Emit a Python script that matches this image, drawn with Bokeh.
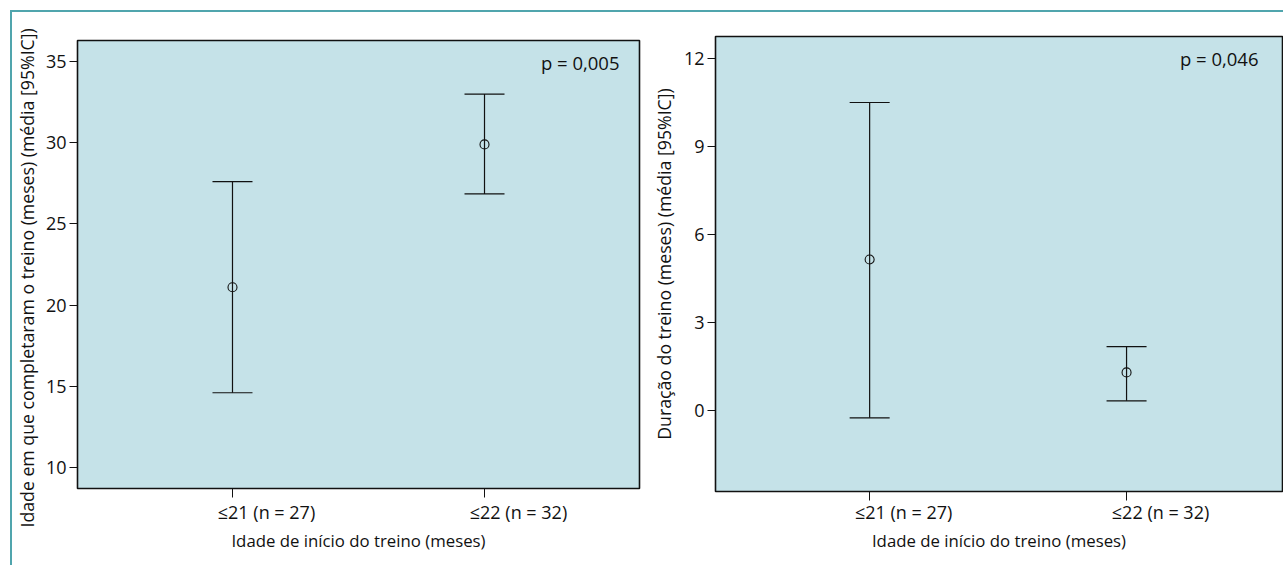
from bokeh.plotting import figure
from bokeh.models import ColumnDataSource, Whisker, TeeHead, FixedTicker, Label, Range1d, Title
from bokeh.layouts import row, column
from bokeh.embed import file_html
from bokeh.resources import INLINE

# ---- data ----
categories = ["≤21 (n = 27)", "≤22 (n = 32)"]
cat_pos = [1, 2]
x_title = "Idade de início do treino (meses)"

age_mean = [21.1, 29.9]
age_lower = [14.6, 26.85]
age_upper = [27.6, 33.0]
age_ticks = [10, 15, 20, 25, 30, 35]
age_ylabel = "Idade em que completaram o treino (meses) (média [95%IC])"
age_p = "p = 0,005"

dur_mean = [5.15, 1.3]
dur_lower = [-0.25, 0.33]
dur_upper = [10.5, 2.18]
dur_ticks = [0, 3, 6, 9, 12]
dur_ylabel = "Duração do treino (meses) (média [95%IC])"
dur_p = "p = 0,046"

FONT = "Open Sans"
BG = "#c5e2e8"
INK = "#111111"


def panel(mean, lower, upper, yticks, ylabel, ptext, width, height,
          bl, br, bt, bb, xr, yr, label_shift_px, ylab_standoff, ylab_align,
          ylab_offset, p_dx, xlab_standoff):
    p = figure(width=width, height=height, output_backend="svg",
               toolbar_location=None, x_range=Range1d(*xr), y_range=Range1d(*yr),
               min_border_left=bl, min_border_right=br,
               min_border_top=bt, min_border_bottom=bb)
    p.background_fill_color = BG
    p.border_fill_color = "white"
    p.border_fill_alpha = 0
    p.outline_line_color = INK
    p.outline_line_width = 1.6
    p.xgrid.visible = False
    p.ygrid.visible = False

    src = ColumnDataSource(dict(x=cat_pos, mean=mean, lower=lower, upper=upper))
    w = Whisker(base="x", upper="upper", lower="lower", source=src,
                line_color=INK, line_width=1.2,
                upper_head=TeeHead(size=40, line_color=INK, line_width=1.2),
                lower_head=TeeHead(size=40, line_color=INK, line_width=1.2))
    p.add_layout(w)
    p.scatter("x", "mean", source=src, marker="circle", size=9,
              fill_color=None, line_color=INK, line_width=1.1)

    # y axis
    ya = p.yaxis[0]
    ya.ticker = FixedTicker(ticks=yticks)
    ya.major_label_text_font = FONT
    ya.major_label_text_font_size = "18px"
    ya.major_label_text_color = INK
    ya.major_label_standoff = 3
    ya.major_tick_out = 8
    ya.major_tick_in = 0
    ya.minor_tick_out = 0
    ya.minor_tick_in = 0
    ya.axis_line_color = INK
    ya.major_tick_line_color = INK

    # y title as a side title, so it can be placed as in the original
    p.add_layout(Title(text=ylabel, align=ylab_align, offset=ylab_offset,
                       standoff=ylab_standoff, text_font=FONT,
                       text_font_size="17.7px", text_font_style="normal",
                       text_color=INK), "left")

    # x axis: tick marks at categories (minor), labels slightly shifted (major)
    ppu = (width - bl - br) / (xr[1] - xr[0])
    shift = label_shift_px / ppu
    xa = p.xaxis[0]
    xa.ticker = FixedTicker(ticks=[c + shift for c in cat_pos], minor_ticks=cat_pos)
    xa.major_label_overrides = {c + shift: lab for c, lab in zip(cat_pos, categories)}
    xa.axis_label = x_title
    xa.axis_label_text_font = FONT
    xa.axis_label_text_font_size = "16.8px"
    xa.axis_label_text_font_style = "normal"
    xa.axis_label_text_color = INK
    xa.axis_label_standoff = 2
    xa.major_label_text_font = FONT
    xa.major_label_text_font_size = "18px"
    xa.major_label_text_color = INK
    xa.major_label_standoff = xlab_standoff
    xa.major_tick_out = 0
    xa.major_tick_in = 0
    xa.minor_tick_out = 9
    xa.minor_tick_in = 0
    xa.minor_tick_line_color = INK
    xa.axis_line_color = INK

    p.add_layout(Label(x=xr[1], y=yr[1], x_offset=p_dx, y_offset=-9, text=ptext,
                       text_align="right", text_baseline="top",
                       text_font=FONT, text_font_size="18.5px", text_color=INK))
    return p


p1 = panel(age_mean, age_lower, age_upper, age_ticks, age_ylabel, age_p,
           width=636, height=553, bl=68, br=6, bt=28, bb=77,
           xr=(0.385, 2.615), yr=(8.7, 36.3), label_shift_px=34,
           ylab_standoff=7, ylab_align="left", ylab_offset=-39, p_dx=-20,
           xlab_standoff=2)
p2 = panel(dur_mean, dur_lower, dur_upper, dur_ticks, dur_ylabel, dur_p,
           width=638, height=553, bl=70, br=1, bt=24, bb=74,
           xr=(0.40, 2.607), yr=(-2.76, 12.75), label_shift_px=34,
           ylab_standoff=9, ylab_align="center", ylab_offset=0, p_dx=-24,
           xlab_standoff=-1)

left_box = column(p1, margin=(0, 0, 0, -3))
right_box = column(p2)

layout = row(left_box, right_box, margin=(10, 0, 0, 10),
             styles={"border-top": "2px solid #50a5ad",
                     "border-left": "2px solid #50a5ad"})

open("out.html", "w").write(file_html(layout, INLINE))
